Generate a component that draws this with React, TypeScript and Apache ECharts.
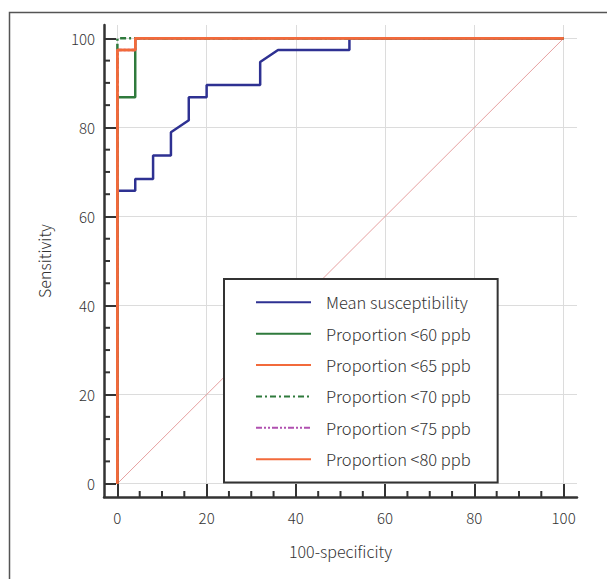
import React, { useEffect, useRef } from "react";
import * as echarts from "echarts";

const majorTicks = [0, 20, 40, 60, 80, 100];
const minorTicks = [5, 10, 15, 25, 30, 35, 45, 50, 55, 65, 70, 75, 85, 90, 95];

const diagonal = [[0, 0], [100, 100]];
const meanSusceptibility = [
  [0, 0], [0, 65.8], [4, 65.8], [4, 68.4], [8, 68.4], [8, 73.7], [12, 73.7], [12, 78.9],
  [16, 81.6], [16, 86.8], [20, 86.8], [20, 89.5], [32, 89.5], [32, 94.7], [36, 97.4],
  [52, 97.4], [52, 100], [100, 100],
];
const prop60 = [[0, 0], [0, 86.8], [4, 86.8], [4, 100], [100, 100]];
const prop65 = [[0, 0], [0, 97.4], [4, 97.4], [4, 100], [100, 100]];
const prop70 = [[0, 0], [0, 100], [100, 100]];
const prop75 = [[0, 0], [0, 97.4], [4, 97.4], [4, 100], [100, 100]];
const prop80 = [[0, 0], [0, 97.4], [4, 97.4], [4, 100], [100, 100]];

const names = [
  "Mean susceptibility",
  "Proportion <60 ppb",
  "Proportion <65 ppb",
  "Proportion <70 ppb",
  "Proportion <75 ppb",
  "Proportion <80 ppb",
];

const FONT = "'Noto Sans CJK KR', 'Noto Sans', sans-serif";
const FW = 300;
const W = 607;
const H = 579;
const G = { left: 104, right: 30, top: 25, bottom: 82 };
const AXIS_MIN = -3;
const AXIS_MAX = 103;

export default function App() {
  const ref = useRef<HTMLDivElement>(null);
  useEffect(() => {
    if (!ref.current) return;
    const chart = echarts.init(ref.current, undefined, { renderer: "svg" });
    const makeAxis = (position: string, name: string, nameGap: number, margin: number, len: number) => ({
      type: "value",
      min: AXIS_MIN,
      max: AXIS_MAX,
      position,
      name,
      nameLocation: "middle",
      nameGap,
      nameTextStyle: { fontSize: 16, color: "#333", fontFamily: FONT, fontWeight: FW },
      axisLine: { show: true, onZero: false, lineStyle: { color: "#333", width: 2.5 } },
      splitLine: { show: false },
      axisTick: {
        show: true,
        inside: true,
        length: len,
        customValues: majorTicks,
        lineStyle: { color: "#333", width: 2 },
      },
      axisLabel: {
        customValues: majorTicks,
        margin,
        fontSize: 15,
        color: "#333",
        fontFamily: FONT,
        fontWeight: FW,
      },
    });
    const lineS = (name: string, data: number[][], color: string, type: any, z: number) => ({
      name,
      type: "line",
      data,
      symbol: "none",
      showSymbol: false,
      z,
      lineStyle: { color, width: 2.5, type },
      itemStyle: { color },
      emphasis: { disabled: true },
    });
    const tickSeries = (dir: "x" | "y") => ({
      name: dir === "x" ? "minorX" : "minorY",
      type: "custom",
      silent: true,
      clip: false,
      z: 8,
      encode: { x: 0, y: 1 },
      data: minorTicks.map((v) => (dir === "x" ? [v, AXIS_MIN] : [AXIS_MIN, v])),
      renderItem: (_params: any, api: any) => {
        const p = api.coord([api.value(0), api.value(1)]);
        const shape =
          dir === "x"
            ? { x1: p[0], y1: p[1], x2: p[0], y2: p[1] - 6 }
            : { x1: p[0], y1: p[1], x2: p[0] + 6, y2: p[1] };
        return {
          type: "line",
          shape,
          style: { stroke: "#333", lineWidth: 2, fill: null },
        };
      },
    });
    const gridStyle = { color: "#dcdcdc", width: 1, type: "solid" };
    chart.setOption({
      animation: false,
      textStyle: { fontFamily: FONT },
      grid: { ...G, containLabel: false },
      graphic: [
        {
          type: "rect",
          left: 7,
          top: 10,
          shape: { width: 700, height: 700 },
          style: { fill: "none", stroke: "#555", lineWidth: 1.5 },
          silent: true,
        },
      ],
      xAxis: makeAxis("bottom", "100-specificity", 46, 13, 13),
      yAxis: makeAxis("left", "Sensitivity", 52, 9, 12),
      legend: {
        data: names,
        orient: "vertical",
        left: 224,
        top: 279,
        z: 10,
        itemWidth: 55,
        itemHeight: 14,
        itemGap: 14.9,
        padding: [15, 27, 15, 31],
        borderColor: "#333",
        borderWidth: 2,
        backgroundColor: "#fff",
        lineStyle: { width: 2 },
        itemStyle: { opacity: 0 },
        textStyle: { fontSize: 16.5, color: "#333", fontFamily: FONT, fontWeight: FW, padding: [0, 0, 0, 10] },
        selectedMode: false,
      },
      series: [
        {
          name: "Reference",
          type: "line",
          data: diagonal,
          symbol: "none",
          z: 1,
          lineStyle: { color: "#e6a0a0", width: 1 },
          emphasis: { disabled: true },
          markLine: {
            silent: true,
            z: 0,
            symbol: "none",
            label: { show: false },
            lineStyle: gridStyle,
            emphasis: { disabled: true },
            data: [
              ...majorTicks.map((v) => ({ xAxis: v })),
              ...majorTicks.map((v) => ({ yAxis: v })),
            ],
          },
        },
        lineS(names[0], meanSusceptibility, "#2e3192", "solid", 2),
        lineS(names[1], prop60, "#2f7a3c", "solid", 3),
        lineS(names[4], prop75, "#b050b0", [6, 2, 2, 2, 2, 2], 4),
        lineS(names[3], prop70, "#2f7a3c", [6, 3, 2, 3], 5),
        lineS(names[2], prop65, "#f26a3b", "solid", 6),
        lineS(names[5], prop80, "#f26a3b", "solid", 7),
        tickSeries("x"),
        tickSeries("y"),
      ],
    });
    return () => chart.dispose();
  }, []);
  return (
    <div
      ref={ref}
      style={{ position: "fixed", left: 0, top: 0, width: W, height: H, background: "#fff" }}
    />
  );
}
